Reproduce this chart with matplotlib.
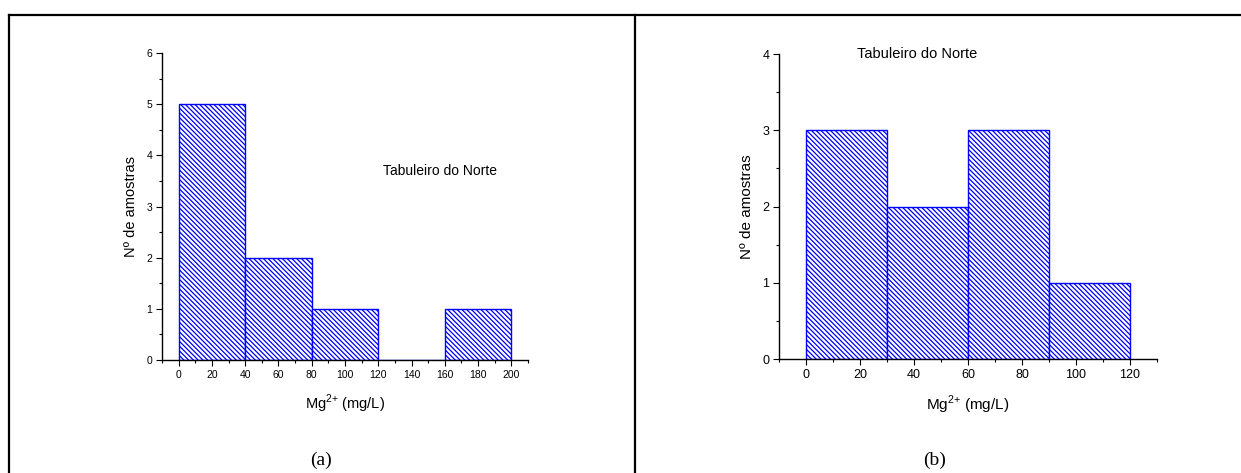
import matplotlib
matplotlib.use("Agg")
import matplotlib.pyplot as plt
from matplotlib.lines import Line2D
from matplotlib.ticker import MultipleLocator

plt.rcParams['font.family'] = ['Liberation Sans', 'DejaVu Sans']
plt.rcParams['hatch.color'] = '#0000ff'
plt.rcParams['hatch.linewidth'] = 0.9

# (a) Mg2+ histogram, bin width 40
bins_a = [0, 40, 80, 120, 160]
counts_a = [5, 2, 1, 0, 1]
width_a = 40

# (b) Mg2+ histogram, bin width 30
bins_b = [0, 30, 60, 90]
counts_b = [3, 2, 3, 1]
width_b = 30

station = "Tabuleiro do Norte"
xlabel = "Mg$^{\\mathregular{2{+}}}$ (mg/L)"
ylabel = "Nº de amostras"

W, H = 1241, 473
fig = plt.figure(figsize=(W / 100, H / 100), dpi=100)


def px_axes(x0, y0, x1, y1):
    # pixel box (top-left origin) -> figure coords
    return fig.add_axes([x0 / W, 1 - y1 / H, (x1 - x0) / W, (y1 - y0) / H])


def style(ax, xlim, ylim, xmaj, ymaj, fs_tick, fs_lab):
    ax.set_xlim(*xlim)
    ax.set_ylim(*ylim)
    for s in ['top', 'right']:
        ax.spines[s].set_visible(False)
    for s in ['left', 'bottom']:
        ax.spines[s].set_linewidth(1.0)
    ax.xaxis.set_major_locator(MultipleLocator(xmaj))
    ax.xaxis.set_minor_locator(MultipleLocator(xmaj / 2))
    ax.yaxis.set_major_locator(MultipleLocator(ymaj))
    ax.yaxis.set_minor_locator(MultipleLocator(ymaj / 2))
    ax.tick_params(which='major', length=4, width=0.8, labelsize=fs_tick, pad=3)
    ax.tick_params(which='minor', length=2.5, width=0.8)
    ax.set_xlabel(xlabel, fontsize=fs_lab, labelpad=9)
    ax.set_ylabel(ylabel, fontsize=fs_lab, labelpad=6)


# panel (a)
ax1 = px_axes(162, 53, 528, 360)
ax1.bar(bins_a, counts_a, width=width_a, align='edge', color='white',
        edgecolor='#0000ff', hatch='\\' * 7, linewidth=1.0)
style(ax1, (-10, 210), (0, 6), 20, 1, 7.5, 10.5)
ax1.text(123, 3.7, station, fontsize=10, va='center', ha='left')

# panel (b)
ax2 = px_axes(779, 54, 1157, 359)
ax2.bar(bins_b, counts_b, width=width_b, align='edge', color='white',
        edgecolor='#0000ff', hatch='\\' * 7, linewidth=1.0)
style(ax2, (-10, 130), (0, 4), 20, 1, 9, 11)
ax2.text(19, 4.0, station, fontsize=10.5, va='center', ha='left')

# table frame
lw = 1.6
fig.add_artist(Line2D([8.5 / W, 1], [1 - 15 / H, 1 - 15 / H], color='black', lw=lw))
fig.add_artist(Line2D([8.5 / W, 8.5 / W], [0, 1 - 15 / H], color='black', lw=lw))
fig.add_artist(Line2D([635 / W, 635 / W], [0, 1 - 15 / H], color='black', lw=lw))

fig.text(321 / W, 1 - 460 / H, "(a)", fontsize=14, ha='center', va='center',
         family=['Liberation Serif', 'DejaVu Serif'])
fig.text(935 / W, 1 - 460 / H, "(b)", fontsize=14, ha='center', va='center',
         family=['Liberation Serif', 'DejaVu Serif'])

fig.savefig("out.png", dpi=100)
